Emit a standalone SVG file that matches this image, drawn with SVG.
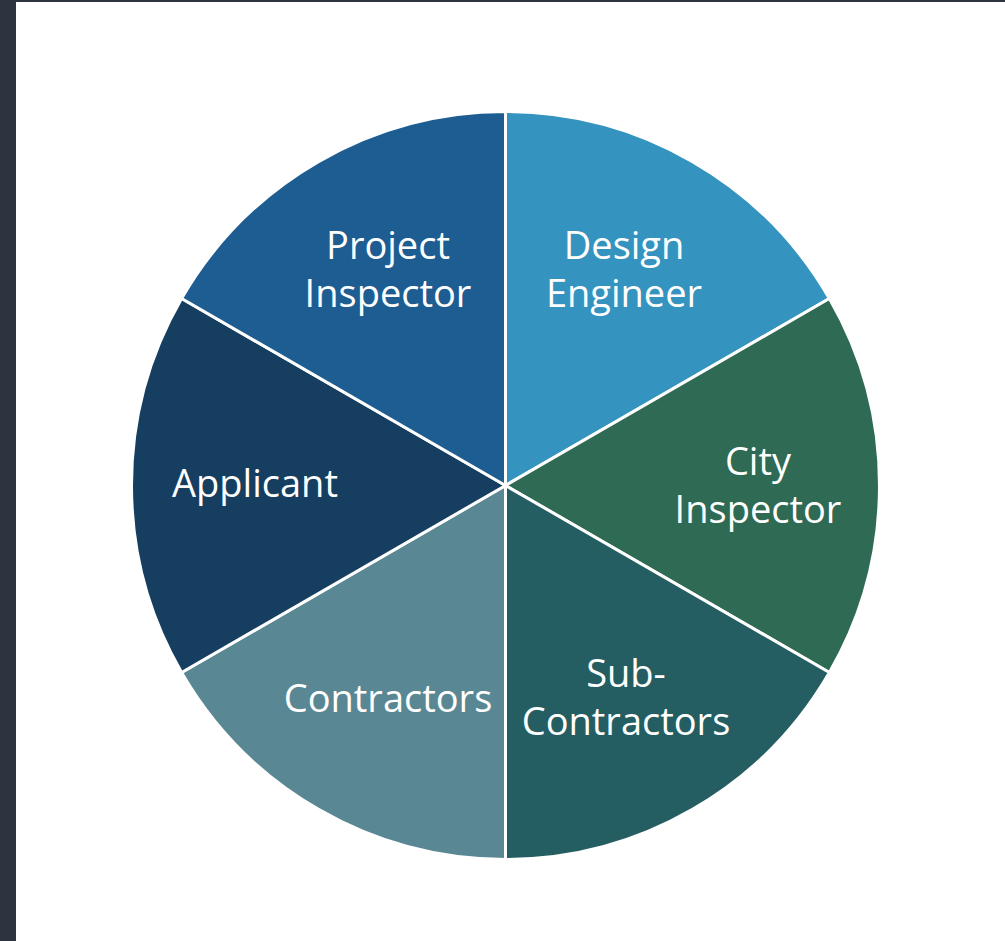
<svg xmlns="http://www.w3.org/2000/svg" width="1005" height="941" viewBox="0 0 1005 941">
<style>
.w{stroke:#ffffff;stroke-width:3;stroke-linejoin:round}
.t{font-family:"Open Sans","Noto Sans",sans-serif;font-size:38px;fill:#ffffff;text-anchor:middle}
</style>
<rect x="0" y="0" width="1005" height="941" fill="#2d3440"/>
<rect x="16" y="2" width="989" height="939" fill="#ffffff"/>
<g id="design-engineer">
<path class="w" fill="#3494bf" d="M505.5,485.5 L505.5,111.5 A374,374 0 0 1 829.4,298.5 Z"/>
<text class="t" x="624" y="259">Design</text>
<text class="t" x="624" y="307">Engineer</text>
</g>
<g id="city-inspector">
<path class="w" fill="#2f6a55" d="M505.5,485.5 L829.4,298.5 A374,374 0 0 1 829.4,672.5 Z"/>
<text class="t" x="758" y="475">City</text>
<text class="t" x="758" y="523">Inspector</text>
</g>
<g id="sub-contractors">
<path class="w" fill="#245e62" d="M505.5,485.5 L829.4,672.5 A374,374 0 0 1 505.5,859.5 Z"/>
<text class="t" x="626" y="687">Sub-</text>
<text class="t" x="626" y="735">Contractors</text>
</g>
<g id="contractors">
<path class="w" fill="#5a8794" d="M505.5,485.5 L505.5,859.5 A374,374 0 0 1 181.6,672.5 Z"/>
<text class="t" x="388" y="712">Contractors</text>
</g>
<g id="applicant">
<path class="w" fill="#163e60" d="M505.5,485.5 L181.6,672.5 A374,374 0 0 1 181.6,298.5 Z"/>
<text class="t" x="255" y="497">Applicant</text>
</g>
<g id="project-inspector">
<path class="w" fill="#1e5d91" d="M505.5,485.5 L181.6,298.5 A374,374 0 0 1 505.5,111.5 Z"/>
<text class="t" x="388" y="259">Project</text>
<text class="t" x="388" y="307">Inspector</text>
</g>
<g id="connectors"></g>
</svg>
